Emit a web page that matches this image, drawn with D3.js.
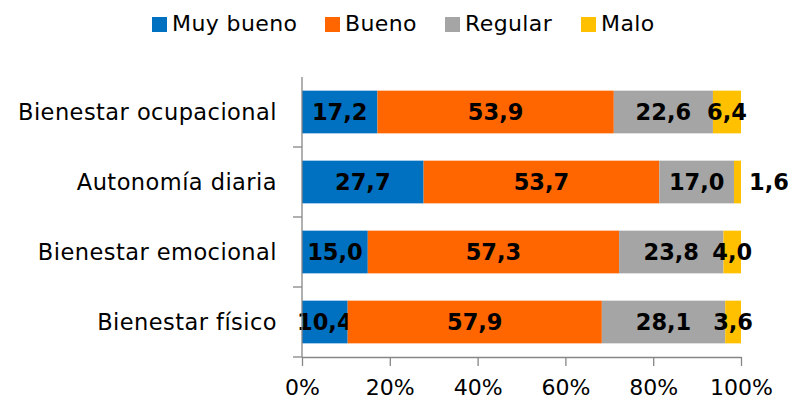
<!DOCTYPE html>
<html>
<head>
<meta charset="utf-8">
<script src="https://cdn.jsdelivr.net/npm/d3@7"></script>
<style>
  body { margin: 0; background: #fff; }
  text { font-family: "DejaVu Sans", sans-serif; fill: #000; }
</style>
</head>
<body>
<div id="chart"></div>
<script>
const categories = ["Bienestar ocupacional", "Autonomía diaria", "Bienestar emocional", "Bienestar físico"];
const seriesNames = ["Muy bueno", "Bueno", "Regular", "Malo"];
const muyBueno = [17.2, 27.7, 15.0, 10.4];
const bueno = [53.9, 53.7, 57.3, 57.9];
const regular = [22.6, 17.0, 23.8, 28.1];
const malo = [6.4, 1.6, 4.0, 3.6];
const tickValues = [0, 0.2, 0.4, 0.6, 0.8, 1];
const colors = ["#0070C0", "#FF6600", "#A5A5A5", "#FFC000"];

function drawChart(containerId) {
  const width = 788, height = 401;
  const margin = { top: 77, right: 47, bottom: 44, left: 302 };

  const svg = d3.select(`#${containerId}`)
    .append("svg")
      .attr("width", width)
      .attr("height", height);

  const rows = categories.map((c, i) => ({
    cat: c,
    "Muy bueno": muyBueno[i],
    "Bueno": bueno[i],
    "Regular": regular[i],
    "Malo": malo[i]
  }));

  const stacked = d3.stack()
    .keys(seriesNames)
    .offset(d3.stackOffsetExpand)(rows);

  const x = d3.scaleLinear()
    .domain([0, 1])
    .range([margin.left, width - margin.right]);

  const y = d3.scaleBand()
    .domain(categories)
    .range([margin.top, height - margin.bottom])
    .paddingInner(0.39)
    .paddingOuter(0.195);

  const color = d3.scaleOrdinal().domain(seriesNames).range(colors);

  // bars
  const layers = svg.append("g")
    .selectAll("g")
    .data(stacked)
    .join("g")
      .attr("fill", d => color(d.key));

  layers.selectAll("rect")
    .data(d => d)
    .join("rect")
      .attr("x", d => x(d[0]))
      .attr("y", d => y(d.data.cat))
      .attr("width", d => x(d[1]) - x(d[0]))
      .attr("height", y.bandwidth());

  // x axis
  const xAxis = svg.append("g")
    .attr("transform", `translate(0,${height - margin.bottom})`)
    .call(d3.axisBottom(x).tickValues(tickValues).tickFormat(d3.format(".0%")).tickSize(9).tickSizeOuter(0).tickPadding(13));
  xAxis.selectAll("line, path").attr("stroke", "#868686").attr("stroke-width", 1.3);
  xAxis.selectAll("text")
    .style("font-size", "22px")
    .style("font-family", "DejaVu Sans, sans-serif")
    .attr("fill", "#000");

  // y axis: line plus ticks between categories
  const yAxis = svg.append("g")
    .attr("transform", `translate(${margin.left},0)`);
  yAxis.append("line")
    .attr("x1", 0).attr("x2", 0)
    .attr("y1", margin.top).attr("y2", height - margin.bottom)
    .attr("stroke", "#868686").attr("stroke-width", 1.3);
  const step = y.step();
  yAxis.selectAll(".sep")
    .data(categories)
    .join("line")
      .attr("class", "sep")
      .attr("x1", -9).attr("x2", 0)
      .attr("y1", d => y(d) - y.paddingInner() * step / 2 + step)
      .attr("y2", d => y(d) - y.paddingInner() * step / 2 + step)
      .attr("stroke", "#868686").attr("stroke-width", 1.3);

  // category labels
  svg.append("g")
    .selectAll("text")
    .data(categories)
    .join("text")
      .attr("x", margin.left - 25)
      .attr("y", d => y(d) + y.bandwidth() / 2)
      .attr("dy", "0.36em")
      .attr("text-anchor", "end")
      .style("font-size", "22.5px")
      .style("letter-spacing", "0.45px")
      .text(d => d);

  // value labels
  layers.selectAll("text")
    .data(d => d.map(v => ({ key: d.key, v })))
    .join("text")
      .attr("x", d => {
        const raw = d.v.data[d.key];
        return raw < 2 ? x(d.v[1]) + 8 : (x(d.v[0]) + x(d.v[1])) / 2;
      })
      .attr("y", d => y(d.v.data.cat) + y.bandwidth() / 2)
      .attr("dy", "0.36em")
      .attr("text-anchor", d => d.v.data[d.key] < 2 ? "start" : "middle")
      .style("font-size", "22.5px")
      .style("font-weight", "bold")
      .style("fill", "#000")
      .text(d => d3.format(".1f")(d.v.data[d.key]).replace(".", ","));

  // legend
  const legendX = [152, 325, 445, 581];
  const legend = svg.append("g")
    .selectAll("g")
    .data(seriesNames)
    .join("g")
      .attr("transform", (d, i) => `translate(${legendX[i]},17)`);
  legend.append("rect")
    .attr("width", 15).attr("height", 15)
    .attr("fill", d => color(d));
  legend.append("text")
    .attr("x", 20)
    .attr("y", 14)
    .style("font-size", "22px")
    .style("letter-spacing", "0.4px")
    .text(d => d);
}

drawChart("chart");
</script>
</body>
</html>
